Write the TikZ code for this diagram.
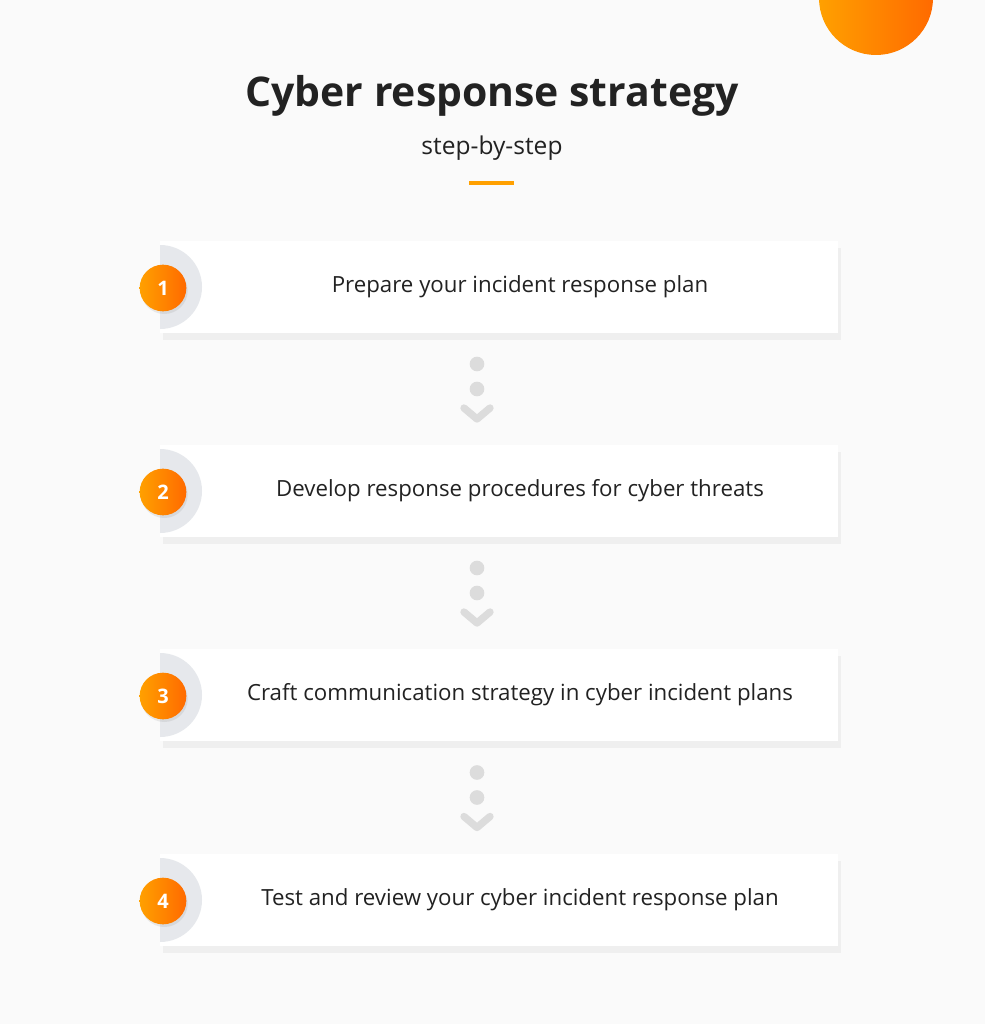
\documentclass[tikz,border=0pt]{standalone}
\usepackage{fontspec}
\setmainfont{Open Sans}
\usetikzlibrary{shadows}
\usetikzlibrary{calc}

\definecolor{bgcol}{HTML}{FAFAFA}
\definecolor{orangeA}{HTML}{FFA000}
\definecolor{orangeB}{HTML}{FF6A00}
\definecolor{dotgray}{HTML}{DCDCDC}
\definecolor{halfgray}{HTML}{E6E8EC}
\definecolor{textcol}{HTML}{222222}

\tikzset{
  stepbox/.style={fill=white, minimum width=678*0.75pt, minimum height=92*0.75pt, inner sep=0,
    drop shadow={shadow xshift=2pt, shadow yshift=-5pt, opacity=.06, fill=black!70}},
  steptext/.style={font=\fontsize{16.7}{19}\selectfont, text=textcol},
  badge/.style={circle, minimum size=35pt, inner sep=0, left color=orangeA, right color=orangeB,
    text=white, font=\bfseries\fontsize{15}{17}\selectfont,
    drop shadow={shadow xshift=1pt, shadow yshift=-2pt, opacity=.15}},
  flowdot/.style={circle, fill=dotgray, minimum size=11pt, inner sep=0},
}

\begin{document}
\begin{tikzpicture}[x=0.75pt, y=-0.75pt]
\useasboundingbox[fill=bgcol] (0,0) rectangle (985,1024);

% corner blob
\begin{scope}
\clip (0,0) rectangle (985,1024);
\shade[left color=orangeA, right color=orangeB] (876,-2) circle (57);
\end{scope}

% heading
\node[font=\bfseries\fontsize{30.7}{35}\selectfont, text=textcol] (title) at (492,96) {Cyber response strategy};
\node[font=\fontsize{18.4}{21}\selectfont, text=textcol] (subtitle) at (492,148) {step-by-step};
\draw[orangeA, line width=3pt] (469,183) -- (514,183);

% steps
\foreach \n/\y/\txt in {1/287/Prepare your incident response plan,
                        2/491/Develop response procedures for cyber threats,
                        3/695/Craft communication strategy in cyber incident plans,
                        4/900/Test and review your cyber incident response plan}{
  \node[stepbox] (box\n) at (499,\y) {};
  \begin{scope}
    \clip (160,\y-46) rectangle (300,\y+46);
    \fill[halfgray] (160,\y) circle (42);
  \end{scope}
  \node[steptext] (label\n) at (520,\y) {\txt};
  \node[badge] (badge\n) at (163,\y+1) {\n};
}

% connectors
\foreach \a/\b in {1/2,2/3,3/4}{
  \coordinate (gap\a) at ($(box\a.south)!0.5!(box\b.north)$);
  \node[flowdot] (dotA\a) at ($(gap\a)+(-22,-25)$) {};
  \node[flowdot] (dotB\a) at ($(gap\a)+(-22,0)$) {};
  \coordinate (chev\a) at ($(gap\a)+(-22,30)$);
  \draw[dotgray, line width=5.5pt, line cap=round, line join=round]
    ($(chev\a)+(-13,-11)$) -- (chev\a) -- ($(chev\a)+(13,-11)$);
}
\end{tikzpicture}
\end{document}
